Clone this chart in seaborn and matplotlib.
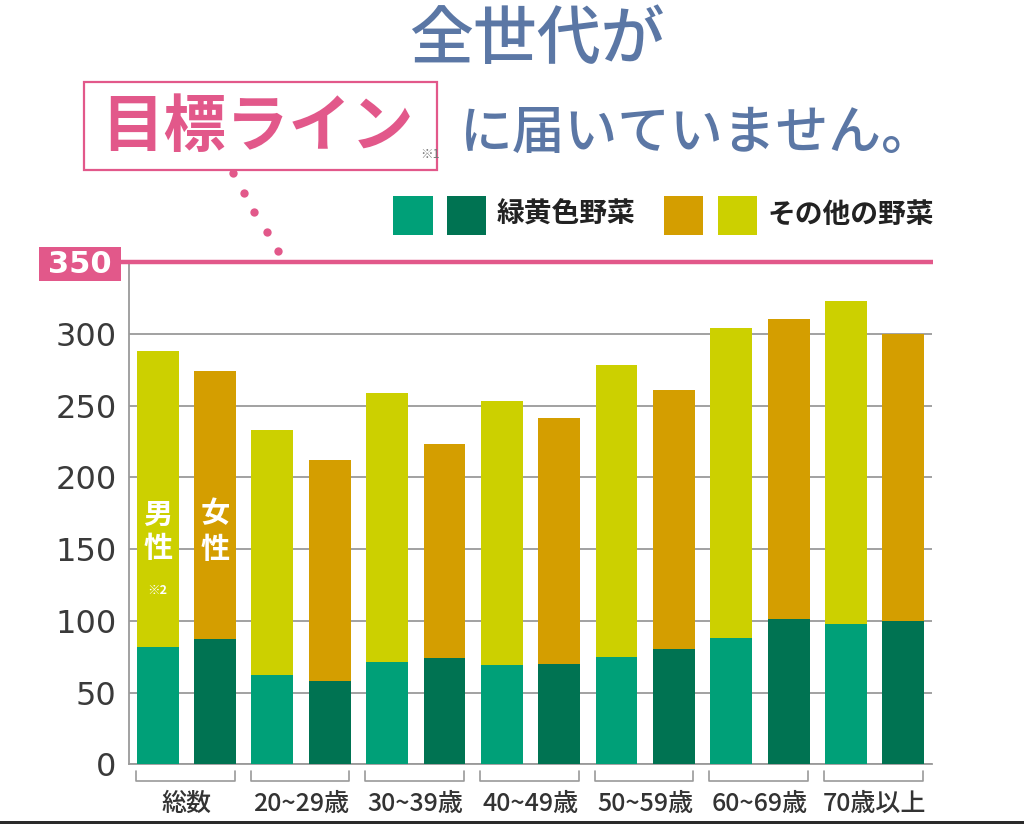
import matplotlib
matplotlib.use("Agg")
import matplotlib.pyplot as plt
import seaborn as sns
import pandas as pd
from matplotlib.patches import Rectangle
from matplotlib.lines import Line2D
from matplotlib import transforms

# ---------------- data ----------------
groups = ['総数', '20~29歳', '30~39歳', '40~49歳', '50~59歳', '60~69歳', '70歳以上']
sexes = ['男性', '女性']
male_total = [288, 233, 259, 253, 278, 304, 323]
female_total = [274, 212, 223, 241, 261, 310, 300]
male_green = [82, 62, 71, 69, 75, 88, 98]
female_green = [87, 58, 74, 70, 80, 101, 100]
yticks = [0, 50, 100, 150, 200, 250, 300]
target = 350

# ---------------- colours ----------------
LIGHT_GREEN = '#00A078'
DARK_GREEN = '#007352'
ORANGE = '#D49E00'
YELLOW = '#CCD000'
PINK = '#E2588A'
TITLE_BLUE = '#5B77A5'
GRID = '#9a9a9a'

sns.set_style('white')
plt.rcParams['font.family'] = ['Noto Sans CJK JP', 'DejaVu Sans']

rows = []
for i, g in enumerate(groups):
    rows.append({'group': g, 'sex': '男性', 'total': male_total[i], 'green': male_green[i]})
    rows.append({'group': g, 'sex': '女性', 'total': female_total[i], 'green': female_green[i]})
df = pd.DataFrame(rows)

W, H = 1024, 824
fig = plt.figure(figsize=(W / 100, H / 100), dpi=100)


def fx(px):
    return px / W


def fy(py):
    return 1 - py / H


ax_left, ax_right, ax_bottom, ax_top = 129, 932, 764.3, 262
ax = fig.add_axes([fx(ax_left), fy(ax_bottom), fx(ax_right - ax_left), (ax_bottom - ax_top) / H])

sns.barplot(data=df, x='group', y='total', hue='sex', hue_order=sexes, order=groups,
            palette={'男性': YELLOW, '女性': ORANGE}, dodge=True, width=1.0, gap=0.27,
            saturation=1, linewidth=0, legend=False, ax=ax, zorder=2)
sns.barplot(data=df, x='group', y='green', hue='sex', hue_order=sexes, order=groups,
            palette={'男性': LIGHT_GREEN, '女性': DARK_GREEN}, dodge=True, width=1.0, gap=0.27,
            saturation=1, linewidth=0, legend=False, ax=ax, zorder=3)

ax.set_xlim(-0.5, len(groups) - 0.5)
ax.set_ylim(0, target)
ax.set_xlabel('')
ax.set_ylabel('')

# grid & spines
ax.set_axisbelow(True)
ax.yaxis.grid(True, color=GRID, linewidth=1.3)
ax.xaxis.grid(False)
for s in ['top', 'right']:
    ax.spines[s].set_visible(False)
for s in ['left', 'bottom']:
    ax.spines[s].set_color(GRID)
    ax.spines[s].set_linewidth(1.3)

ax.set_yticks(yticks)
ax.set_yticklabels([str(v) for v in yticks], fontsize=23, color='#3a3a3a', family='DejaVu Sans')
ax.tick_params(axis='y', length=0, pad=9)

ax.set_xticks(range(len(groups)))
ax.set_xticklabels(groups, fontsize=18, color='#333333', fontweight='medium')
ax.tick_params(axis='x', which='major', length=0, pad=19)
ax.set_xticks([i * 0.5 - 0.5 for i in range(2 * len(groups) + 1)], minor=True)
ax.tick_params(axis='x', which='minor', direction='in', length=8, width=1.2, color=GRID)

# brackets under each group
btr = transforms.blended_transform_factory(ax.transData, ax.transAxes)
for i in range(len(groups)):
    y0, y1 = -0.013, -0.033
    ax.plot([i - 0.44, i - 0.44, i + 0.42, i + 0.42], [y0, y1, y1, y0], transform=btr,
            color=GRID, lw=1.2, clip_on=False)

# in-bar labels
for ch, yy in [('男', 174), ('性', 151)]:
    ax.text(-0.25, yy, ch, ha='center', va='center', color='white', fontsize=21,
            fontweight='bold', zorder=5)
ax.text(-0.25, 121, '※2', ha='center', va='center', color='white', fontsize=9,
        fontweight='bold', zorder=5)
for ch, yy in [('女', 175), ('性', 150)]:
    ax.text(0.25, yy, ch, ha='center', va='center', color='white', fontsize=21,
            fontweight='bold', zorder=5)

# target line 350
fig.add_artist(Line2D([fx(121), fx(933)], [fy(262), fy(262)], color=PINK, lw=3.2,
                      solid_capstyle='butt'))
fig.add_artist(Rectangle((fx(39), fy(281)), fx(82), 34 / H, facecolor=PINK,
                         edgecolor='none'))
fig.text(fx(80), fy(264.5), str(target), ha='center', va='center', color='white',
         fontsize=22, family='DejaVu Sans', fontweight='semibold')

# titles
fig.text(fx(537), fy(40), '全世代が', ha='center', va='center', color=TITLE_BLUE,
         fontsize=46, fontweight='medium')
fig.text(fx(697), fy(134), 'に届いていません。', ha='center', va='center', color=TITLE_BLUE,
         fontsize=38, fontweight='medium')

# pink box
fig.add_artist(Rectangle((fx(84), fy(170)), fx(353), 88 / H, facecolor='none',
                         edgecolor=PINK, lw=1.6))
fig.text(fx(257), fy(128), '目標ライン', ha='center', va='center', color=PINK,
         fontsize=45, fontweight='bold')
fig.text(fx(420), fy(155), '※1', ha='left', va='center', color='#777777', fontsize=9)

# dotted leader
dots_x = [233, 244, 254, 266.5, 277.5]
dots_y = [173, 193, 212, 231.5, 250.5]
fig.add_artist(Line2D([fx(v) for v in dots_x], [fy(v) for v in dots_y], ls='',
                      marker='o', ms=6, color=PINK, markeredgewidth=0))

# legend
for x0, x1, c in [(393, 433, LIGHT_GREEN), (447, 486, DARK_GREEN),
                  (664, 703, ORANGE), (718, 757, YELLOW)]:
    fig.add_artist(Rectangle((fx(x0), fy(235)), fx(x1 - x0), 39 / H, facecolor=c,
                             edgecolor='none'))
fig.text(fx(497), fy(215), '緑黄色野菜', ha='left', va='center', color='#222222',
         fontsize=20, fontweight='bold')
fig.text(fx(768), fy(215), 'その他の野菜', ha='left', va='center', color='#222222',
         fontsize=20, fontweight='bold')

# bottom dark strip (screenshot edge)
fig.add_artist(Rectangle((0, 0), 1, 3 / H, facecolor='#2a2a2a', edgecolor='none'))

fig.savefig('out.png', dpi=100)
